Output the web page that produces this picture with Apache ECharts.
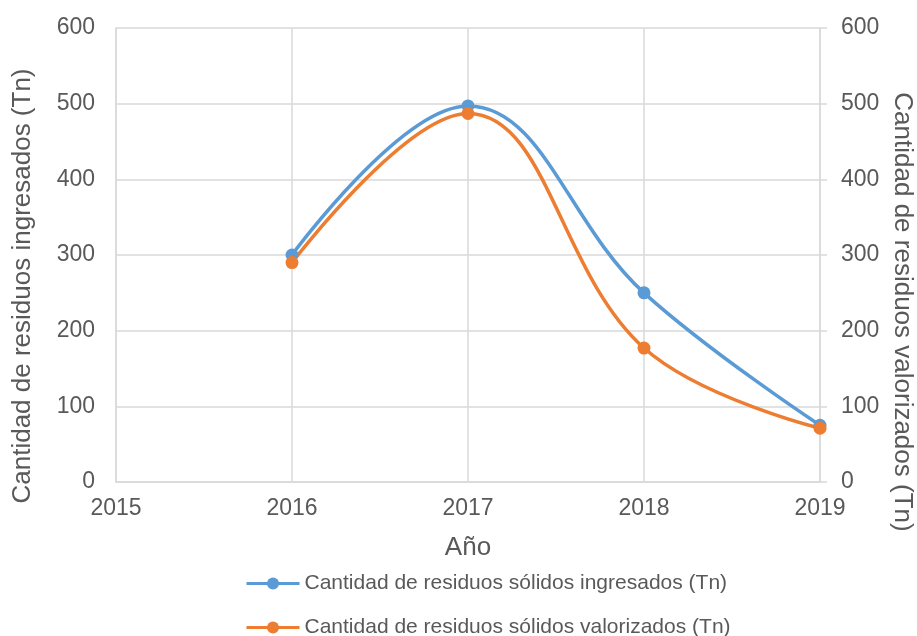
<!DOCTYPE html>
<html>
<head>
<meta charset="utf-8">
<script src="https://cdn.jsdelivr.net/npm/echarts@6/dist/echarts.min.js"></script>
<style>html,body{margin:0;padding:0;background:#fff}#c{width:917px;height:636px}</style>
</head>
<body>
<div id="c"></div>
<script>
const years = [2016, 2017, 2018, 2019];
const ingresados = [300, 497, 250, 75];
const valorizados = [290, 487, 177, 71];
const yTicks = [0, 100, 200, 300, 400, 500, 600];
const xTicks = [2015, 2016, 2017, 2018, 2019];
const seriesNames = ['Cantidad de residuos sólidos ingresados (Tn)', 'Cantidad de residuos sólidos valorizados (Tn)'];
const leftTitle = 'Cantidad de residuos ingresados (Tn)';
const rightTitle = 'Cantidad de residuos valorizados (Tn)';
const xTitle = 'Año';

const FONT = '"Liberation Sans", Arial, Helvetica, sans-serif';
const GRAY = '#595959';
const GRID = '#d9d9d9';
const BLUE = '#5b9bd5';
const ORANGE = '#ed7d31';

const chart = echarts.init(document.getElementById('c'), null, {renderer: 'canvas'});
const yAxisBase = {
  type: 'value', min: yTicks[0], max: yTicks[yTicks.length - 1], interval: 100,
  axisLine: {show: true, lineStyle: {color: GRID, width: 1.5}},
  splitLine: {show: true, lineStyle: {color: GRID, width: 1.5}},
  axisLabel: {color: GRAY, fontSize: 23, fontFamily: FONT, margin: 21}
};
chart.setOption({
  animation: false,
  grid: {left: 116, right: 97, top: 28, bottom: 154, containLabel: false},
  xAxis: {
    type: 'value', min: xTicks[0], max: xTicks[xTicks.length - 1], interval: 1,
    name: xTitle, nameLocation: 'middle', nameGap: 53,
    nameTextStyle: {color: GRAY, fontSize: 26, fontFamily: FONT},
    axisLine: {show: true, onZero: false, lineStyle: {color: GRID, width: 1.5}},
    axisTick: {show: false},
    splitLine: {show: true, lineStyle: {color: GRID, width: 1.5}},
    axisLabel: {color: GRAY, fontSize: 23, fontFamily: FONT, margin: 15, formatter: v => String(v)}
  },
  yAxis: [
    Object.assign({}, yAxisBase, {position: 'left', axisTick: {show: false}}),
    Object.assign({}, yAxisBase, {position: 'right', splitLine: {show: false},
      axisTick: {show: true, length: 7, lineStyle: {color: GRID, width: 1.5}}})
  ],
  legend: {
    orient: 'vertical', left: 245, top: 573, height: 120, padding: 0,
    itemWidth: 53, itemHeight: 15, itemGap: 23,
    textStyle: {color: GRAY, fontSize: 21, fontFamily: FONT, lineHeight: 21},
    lineStyle: {width: 3},
    data: seriesNames
  },
  graphic: [
    {type: 'text', x: 23, y: 286, rotation: Math.PI / 2,
     style: {text: leftTitle, fill: GRAY, font: '26px ' + FONT, textAlign: 'center', textVerticalAlign: 'middle'}},
    {type: 'text', x: 902, y: 312, rotation: -Math.PI / 2,
     style: {text: rightTitle, fill: GRAY, font: '26px ' + FONT, textAlign: 'center', textVerticalAlign: 'middle'}}
  ],
  series: [
    {name: seriesNames[0], type: 'line', yAxisIndex: 0, smooth: 0.4,
     data: years.map((y, i) => [y, ingresados[i]]),
     symbol: 'circle', symbolSize: 13, color: BLUE,
     lineStyle: {width: 3.5, color: BLUE}, itemStyle: {color: BLUE}},
    {name: seriesNames[1], type: 'line', yAxisIndex: 1, smooth: 0.4,
     data: years.map((y, i) => [y, valorizados[i]]),
     symbol: 'circle', symbolSize: 13, color: ORANGE,
     lineStyle: {width: 3.5, color: ORANGE}, itemStyle: {color: ORANGE}}
  ]
});
</script>
</body>
</html>
